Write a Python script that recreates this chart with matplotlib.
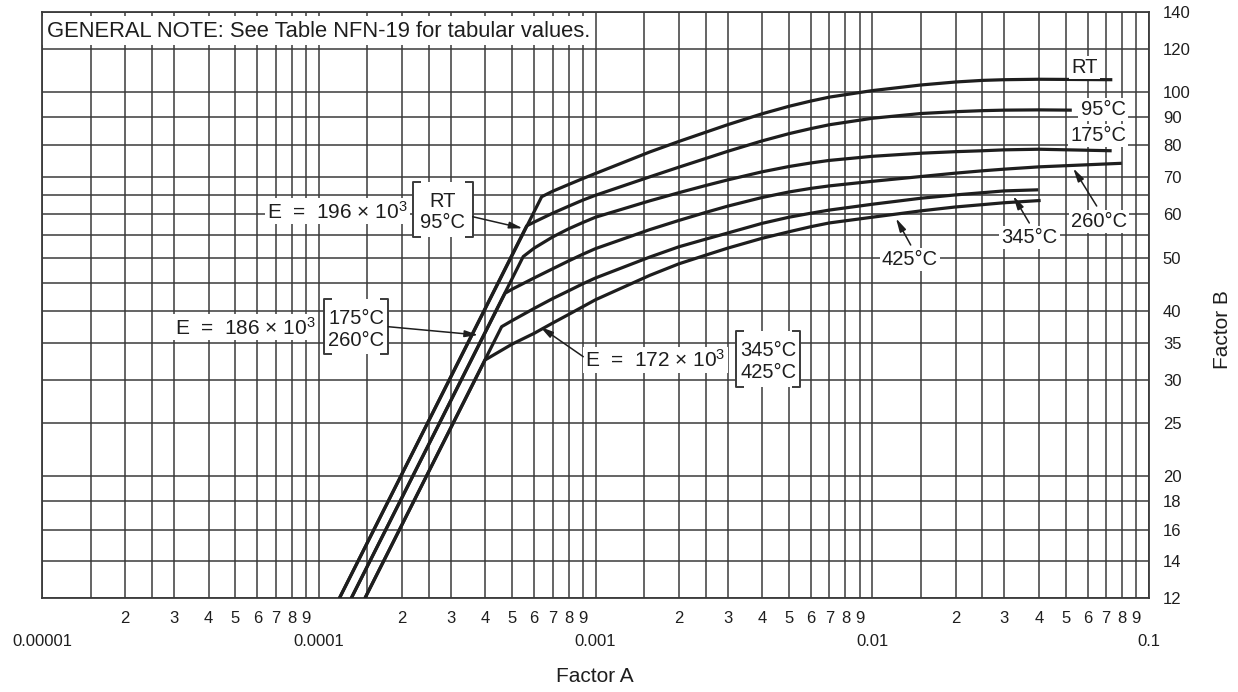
import matplotlib
matplotlib.use("Agg")
import matplotlib.pyplot as plt
from matplotlib.patches import Rectangle
from matplotlib.ticker import FixedLocator, FixedFormatter, NullFormatter

plt.rcParams['font.family'] = ['Liberation Sans', 'DejaVu Sans']
plt.rcParams['mathtext.fontset'] = 'custom'
plt.rcParams['mathtext.rm'] = 'Liberation Sans'
plt.rcParams['mathtext.it'] = 'Liberation Sans'

# ---------------- data (Factor A, Factor B) ----------------
rt_A = [1.187e-4, 6.39e-4, 7e-4, 8e-4, 9e-4, 1e-3, 1.57e-3, 2e-3, 2.5e-3, 3e-3, 4e-3, 5e-3,
        6e-3, 7e-3, 1e-2, 1.5e-2, 2e-2, 2.5e-2, 3e-2, 4e-2, 7.37e-2]
rt_B = [12, 64.5, 66.0, 67.9, 69.6, 71.1, 77.8, 81.3, 84.5, 87.2, 91.3, 94.2,
        96.3, 97.9, 100.6, 103.0, 104.3, 105.0, 105.3, 105.5, 105.3]

c95_A = [1.187e-4, 5.64e-4, 6e-4, 7e-4, 8e-4, 9e-4, 1e-3, 1.57e-3, 2e-3, 2.5e-3, 3e-3, 4e-3,
         5e-3, 6e-3, 7e-3, 1e-2, 1.5e-2, 2e-2, 2.5e-2, 3e-2, 4e-2, 5.26e-2]
c95_B = [12, 57.1, 58.0, 60.2, 62.0, 63.6, 64.9, 70.1, 73.0, 75.7, 78.0, 81.5,
         84.0, 85.8, 87.2, 89.6, 91.4, 92.1, 92.5, 92.7, 92.8, 92.7]

c175_A = [1.31e-4, 5.48e-4, 6e-4, 7e-4, 8e-4, 9e-4, 1e-3, 1.57e-3, 2e-3, 2.5e-3, 3e-3, 4e-3,
          5e-3, 6e-3, 7e-3, 1e-2, 1.5e-2, 2e-2, 2.5e-2, 3e-2, 4e-2, 7.33e-2]
c175_B = [12, 50.2, 52.0, 54.5, 56.4, 57.9, 59.2, 63.4, 65.6, 67.6, 69.2, 71.6,
          73.2, 74.3, 75.1, 76.4, 77.4, 77.9, 78.2, 78.5, 78.7, 78.2]

c260_A = [1.31e-4, 4.71e-4, 5e-4, 6e-4, 7e-4, 8e-4, 9e-4, 1e-3, 1.57e-3, 2e-3, 2.5e-3, 3e-3,
          4e-3, 5e-3, 6e-3, 7e-3, 1e-2, 1.5e-2, 2e-2, 2.5e-2, 3e-2, 4e-2, 7.97e-2]
c260_B = [12, 43.05, 43.8, 45.9, 47.7, 49.3, 50.7, 51.9, 56.2, 58.4, 60.4, 62.0,
          64.3, 65.8, 66.8, 67.5, 68.8, 70.2, 71.2, 71.9, 72.4, 73.1, 74.2]

c345_A = [1.468e-4, 4.58e-4, 5e-4, 6e-4, 7e-4, 8e-4, 9e-4, 1e-3, 1.57e-3, 2e-3, 2.5e-3, 3e-3,
          4e-3, 5e-3, 6e-3, 7e-3, 1e-2, 1.5e-2, 2e-2, 2.5e-2, 3e-2, 3.98e-2]
c345_B = [12, 37.43, 38.4, 40.4, 42.1, 43.5, 44.8, 45.9, 50.1, 52.3, 54.0, 55.4,
          57.7, 59.2, 60.2, 61.0, 62.5, 64.1, 65.0, 65.6, 66.1, 66.4]

c425_A = [1.468e-4, 3.99e-4, 5e-4, 6e-4, 7e-4, 8e-4, 9e-4, 1e-3, 1.57e-3, 2e-3, 2.5e-3, 3e-3,
          4e-3, 5e-3, 6e-3, 7e-3, 1e-2, 1.5e-2, 2e-2, 2.5e-2, 3e-2, 4.06e-2]
c425_B = [12, 32.56, 34.8, 36.4, 38.0, 39.4, 40.7, 41.9, 46.4, 48.7, 50.5, 52.0,
          54.2, 55.7, 56.9, 57.8, 59.2, 60.8, 61.8, 62.4, 62.9, 63.5]

curves = [(rt_A, rt_B), (c95_A, c95_B), (c175_A, c175_B),
          (c260_A, c260_B), (c345_A, c345_B), (c425_A, c425_B)]

x_major = [1e-5, 1e-4, 1e-3, 1e-2, 1e-1]
x_major_labels = ["0.00001", "0.0001", "0.001", "0.01", "0.1"]
x_minor_mult = [1.5, 2, 2.5, 3, 4, 5, 6, 7, 8, 9]
x_minor_labeled = {2: "2", 3: "3", 4: "4", 5: "5", 6: "6", 7: "7", 8: "8", 9: "9"}

y_major = [12, 14, 16, 18, 20, 25, 30, 35, 40, 50, 60, 70, 80, 90, 100, 120, 140]
y_minor = [45, 55, 65]

# ---------------- figure ----------------
W, H = 1238, 692
fig = plt.figure(figsize=(W / 100, H / 100), dpi=100)
L, R, T, Bt = 42, 1149, 11.7, 598.3
ax = fig.add_axes([L / W, 1 - Bt / H, (R - L) / W, (Bt - T) / H])
ax.set_xscale('log')
ax.set_yscale('log')
ax.set_xlim(1e-5, 0.1)
ax.set_ylim(12, 140)

INK = '#1e1e1e'
GRID = '#3a3a3a'

xminor = []
xminor_lab = []
for d in x_major[:-1]:
    for m in x_minor_mult:
        xminor.append(d * m)
        xminor_lab.append(x_minor_labeled.get(m, ""))
ax.xaxis.set_major_locator(FixedLocator(x_major))
ax.xaxis.set_major_formatter(FixedFormatter(x_major_labels))
ax.xaxis.set_minor_locator(FixedLocator(xminor))
ax.xaxis.set_minor_formatter(FixedFormatter(xminor_lab))

ax.yaxis.tick_right()
ax.yaxis.set_major_locator(FixedLocator(y_major))
ax.yaxis.set_major_formatter(FixedFormatter([str(v) for v in y_major]))
ax.yaxis.set_minor_locator(FixedLocator(y_minor))
ax.yaxis.set_minor_formatter(NullFormatter())

ax.tick_params(axis='x', which='minor', length=0, pad=9, labelsize=12, labelcolor=INK)
ax.tick_params(axis='x', which='major', length=0, pad=26, labelsize=12, labelcolor=INK)
ax.tick_params(axis='y', which='both', length=0, pad=10, labelsize=12, labelcolor=INK,
               right=True, left=False, labelright=True, labelleft=False)

ax.set_axisbelow(True)
ax.grid(True, which='both', color=GRID, lw=1.1)
for s in ax.spines.values():
    s.set_color(GRID)
    s.set_linewidth(1.3)

# pixel -> data helpers for annotation placement
def PA(px):
    return 10 ** (-5 + (px - L) / ((R - L) / 4))

def PB(py):
    return 12 * 10 ** ((Bt - py) / ((Bt - T) / 1.0669))

for a, b in curves:
    ax.plot(a, b, color=INK, lw=2.3, solid_capstyle='butt', solid_joinstyle='round', zorder=3)

# general note box
ax.add_patch(Rectangle((0, (Bt - 45) / (Bt - T)), (590 - L) / (R - L), (45 - 16) / (Bt - T),
                       transform=ax.transAxes, facecolor='white', edgecolor='none', zorder=1.5))
ax.text(PA(46.7), PB(31.5), "GENERAL NOTE: See Table NFN-19 for tabular values.",
        fontsize=15.8, color=INK, ha='left', va='center', zorder=4)

white = dict(facecolor='white', edgecolor='none', pad=1.5)
FS = 14.5

def label(px, py, s, ha='center', fs=FS):
    ax.text(PA(px), PB(py), s, fontsize=fs, color=INK, ha=ha, va='baseline', zorder=5, bbox=white)

def arrow(x0, y0, x1, y1):
    ax.annotate("", xy=(PA(x1), PB(y1)), xytext=(PA(x0), PB(y0)),
                arrowprops=dict(arrowstyle='-|>,head_length=0.8,head_width=0.2',
                                color=INK, lw=1.1, shrinkA=0, shrinkB=0), zorder=6)

def bracket(x0, x1, y0, y1, t=8):
    ax.add_patch(Rectangle((PA(x0), PB(y1)), PA(x1) - PA(x0), PB(y0) - PB(y1),
                           facecolor='white', edgecolor='none', zorder=4))
    ax.plot([PA(x0 + t), PA(x0), PA(x0), PA(x0 + t)], [PB(y0), PB(y0), PB(y1), PB(y1)],
            color=GRID, lw=1.4, zorder=5, solid_capstyle='butt')
    ax.plot([PA(x1 - t), PA(x1), PA(x1), PA(x1 - t)], [PB(y0), PB(y0), PB(y1), PB(y1)],
            color=GRID, lw=1.4, zorder=5, solid_capstyle='butt')

# right-hand curve labels
label(1084.7, 73.3, "RT")
label(1103, 115, "95°C")
label(1098, 140.7, "175°C")
label(1099, 226.7, "260°C")
arrow(1096.7, 206, 1073.3, 168.3)
label(1029.5, 243.3, "345°C")
arrow(1029.3, 223, 1013.3, 196)
label(910, 265, "425°C")
arrow(910.7, 245, 896, 218.3)

# modulus labels
EFS = 15
label(266.7, 218.3, r"E  =  196 × 10$^{3}$", ha='left', fs=EFS)
bracket(413.3, 472.7, 181.7, 237.3)
label(442.7, 206.7, "RT")
label(442.7, 228, "95°C")
arrow(472.7, 216.7, 522.7, 228.3)

label(175, 334.3, r"E  =  186 × 10$^{3}$", ha='left', fs=EFS)
bracket(324, 388.3, 299.3, 354)
label(356, 324, "175°C")
label(356, 346, "260°C")
arrow(388.3, 326.7, 478.3, 335)

label(585, 366.7, r"E  =  172 × 10$^{3}$", ha='left', fs=EFS)
bracket(736, 800, 331, 386.7)
label(768.3, 356, "345°C")
label(768.3, 377.7, "425°C")
arrow(583.3, 356.7, 540, 326.7)

# axis titles
fig.text(595 / W, 1 - 677 / H, "Factor A", fontsize=15, color=INK, ha='center', va='center')
fig.text(1222 / W, 1 - 330 / H, "Factor B", fontsize=15, color=INK, ha='center', va='center',
         rotation=90)

fig.savefig("out.png", dpi=100)
